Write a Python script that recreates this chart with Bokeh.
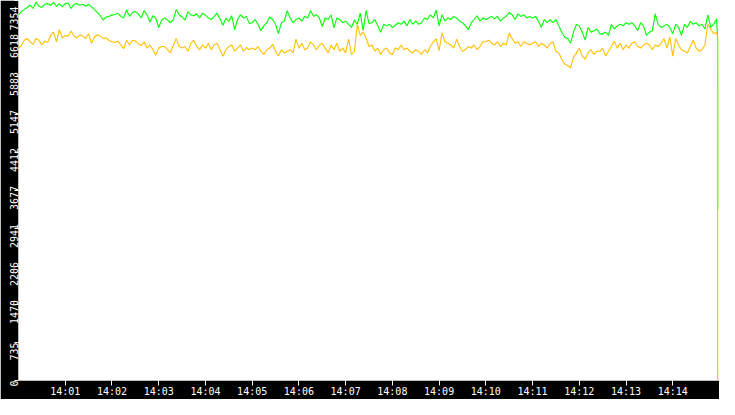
import numpy as np
from datetime import datetime
from bokeh.plotting import figure
from bokeh.models import FixedTicker, DatetimeTickFormatter, Range1d, LinearAxis
from bokeh.embed import file_html
from bokeh.resources import INLINE

# ---------------- data ----------------
y_ticks = [0, 735, 1470, 2206, 2941, 3677, 4412, 5147, 5883, 6618, 7354]
y_tick_labels = [str(v) for v in y_ticks]
x_tick_labels = ["14:01", "14:02", "14:03", "14:04", "14:05", "14:06", "14:07",
                 "14:08", "14:09", "14:10", "14:11", "14:12", "14:13", "14:14"]

# samples every 3.75 s from 14:00:00
green_values = [
    7078, 7139, 7182, 7219, 7262, 7200, 7323, 7243, 7219, 7280, 7293, 7262, 7317, 7243, 7293, 7231, 7293, 7305, 7200, 7280,
    7293, 7262, 7280, 7243, 7280, 7231, 7182, 7121, 7059, 6973, 7035, 7047, 7071, 7084, 7108, 7047, 7016, 7170, 7047, 7121,
    7139, 7096, 7016, 7157, 7078, 6936, 7059, 7016, 6832, 6973, 7016, 6973, 6924, 6986, 7182, 7078, 7035, 6973, 7139, 7078,
    7059, 7096, 7016, 7108, 7071, 7016, 6986, 7047, 7108, 6998, 6875, 7010, 6955, 7059, 6789, 6986, 7078, 7016, 7047, 6912,
    6924, 6986, 6893, 6770, 6863, 6924, 7035, 6986, 6893, 6715, 6924, 6955, 7157, 7016, 6924, 6986, 7016, 6955, 7047, 7016,
    7157, 7047, 7078, 7016, 6850, 7016, 6986, 7078, 6826, 7016, 6986, 6924, 6955, 6893, 6832, 6973, 6893, 7108, 6770, 7157,
    6912, 6924, 6986, 6863, 6740, 6893, 6863, 6893, 6832, 6875, 6924, 6893, 6955, 6863, 6986, 6893, 6955, 6893, 6924, 7016,
    6986, 7078, 7016, 7170, 6863, 7078, 6955, 7016, 6986, 7047, 7016, 6955, 6924, 6863, 6789, 6924, 6986, 7059, 6955, 7016,
    6986, 7016, 7047, 6998, 7047, 6955, 7016, 7047, 7121, 7078, 6986, 7096, 7047, 7078, 7016, 7047, 7016, 7047, 6955, 6832,
    6986, 6924, 6986, 6924, 6986, 6863, 6740, 6648, 6617, 6525, 6740, 6893, 6863, 6740, 6586, 6832, 6740, 6770, 6801, 6709,
    6709, 6740, 6678, 6893, 6801, 6863, 6893, 6863, 6924, 6893, 6924, 6863, 6770, 6924, 6863, 6678, 6740, 6770, 7096, 6893,
    6832, 6863, 6893, 6832, 6709, 6893, 6832, 6678, 6893, 6832, 6955, 6893, 6924, 6863, 6893, 6801, 7078, 6832, 6893, 6998,
]
orange_values = [
    6420, 6494, 6586, 6617, 6555, 6506, 6617, 6586, 6494, 6568, 6543, 6678, 6740, 6555, 6789, 6629, 6678, 6666, 6764, 6666,
    6629, 6691, 6666, 6617, 6709, 6525, 6648, 6691, 6666, 6617, 6629, 6580, 6555, 6543, 6568, 6494, 6420, 6586, 6494, 6586,
    6568, 6525, 6482, 6555, 6433, 6494, 6402, 6297, 6433, 6463, 6463, 6402, 6340, 6494, 6617, 6463, 6433, 6463, 6371, 6525,
    6586, 6463, 6402, 6494, 6433, 6525, 6402, 6494, 6525, 6402, 6273, 6402, 6463, 6494, 6371, 6433, 6494, 6371, 6445, 6402,
    6433, 6402, 6463, 6371, 6310, 6402, 6433, 6506, 6371, 6279, 6402, 6340, 6371, 6402, 6340, 6605, 6433, 6525, 6402, 6433,
    6555, 6494, 6402, 6494, 6525, 6433, 6340, 6494, 6402, 6525, 6371, 6433, 6340, 6605, 6310, 6371, 6893, 6678, 6740, 6629,
    6463, 6494, 6371, 6433, 6310, 6402, 6433, 6340, 6310, 6433, 6402, 6494, 6402, 6433, 6371, 6340, 6402, 6371, 6310, 6402,
    6340, 6463, 6555, 6617, 6383, 6727, 6555, 6525, 6494, 6433, 6605, 6463, 6371, 6402, 6463, 6433, 6494, 6402, 6463, 6555,
    6555, 6586, 6525, 6494, 6555, 6463, 6525, 6494, 6727, 6617, 6525, 6555, 6463, 6555, 6525, 6494, 6525, 6555, 6463, 6525,
    6494, 6433, 6525, 6555, 6371, 6340, 6218, 6126, 6095, 6052, 6248, 6340, 6433, 6279, 6218, 6340, 6402, 6310, 6371, 6371,
    6433, 6279, 6371, 6463, 6568, 6433, 6525, 6402, 6494, 6433, 6525, 6555, 6463, 6433, 6494, 6525, 6494, 6402, 6494, 6463,
    6525, 6617, 6433, 6648, 6279, 6617, 6494, 6402, 6371, 6340, 6463, 6586, 6433, 6371, 6402, 6494, 6893, 6801, 6709, 6740,
]
# last readings before the stop, and the values after the drop
green_tail = [6617, 3300]
orange_tail = [6650, 0]

# ---------------- times ----------------
start = np.datetime64("2024-01-01T14:00:00.000", "ms")
step = np.timedelta64(3750, "ms")
tail_t = [np.timedelta64(897600, "ms"), np.timedelta64(897700, "ms")]

green_t = np.concatenate([start + np.arange(len(green_values)) * step,
                          [start + d for d in tail_t]])
green_y = list(green_values) + green_tail
orange_t = np.concatenate([start + np.arange(len(orange_values)) * step,
                           [start + d for d in tail_t]])
orange_y = list(orange_values) + orange_tail

base_ms = float(start.astype(np.int64))
x_tick_ms = []
for lab in x_tick_labels:
    h, m = lab.split(":")
    x_tick_ms.append(base_ms + ((int(h) - 14) * 60 + int(m)) * 60000.0)

# ---------------- figure ----------------
W, H = 719, 399
FONT = "DejaVu Sans Mono"
FS = "\u2007"  # figure space (digit width)
Y_MAX = 7354

p = figure(width=W, height=H, x_axis_type="datetime",
           x_range=Range1d(datetime(2024, 1, 1, 14, 0, 0), datetime(2024, 1, 1, 14, 15, 0)),
           y_range=Range1d(0, Y_MAX),
           output_backend="svg", toolbar_location=None, tools="")
p.min_border = 0
p.min_border_left = 15
p.min_border_bottom = 16
p.min_border_top = 0
p.min_border_right = 0
p.background_fill_color = "white"
p.border_fill_color = "black"
p.outline_line_color = None
p.xgrid.visible = False
p.ygrid.visible = False

xa = p.xaxis[0]
xa.ticker = FixedTicker(ticks=x_tick_ms)
xa.formatter = DatetimeTickFormatter(seconds="%H:%M", minsec="%H:%M", minutes="%H:%M",
                                     hourmin="%H:%M", hours="%H:%M")
xa.axis_line_color = None
xa.major_tick_line_color = "white"
xa.major_tick_in = 0
xa.major_tick_out = 5
xa.minor_tick_line_color = None
xa.major_label_standoff = 0
xa.major_label_text_color = "white"
xa.major_label_text_font = FONT
xa.major_label_text_font_size = "10px"

# inner left axis: tick marks only
ya = p.yaxis[0]
ya.ticker = FixedTicker(ticks=y_ticks)
ya.axis_line_color = None
ya.major_tick_line_color = "white"
ya.major_tick_in = 0
ya.major_tick_out = 4
ya.minor_tick_line_color = None
ya.major_label_standoff = 0
ya.major_label_overrides = {v: "" for v in y_ticks}
ya.major_label_text_font_size = "0px"

# outer left axis: the rotated labels, each placed slightly below its tick
frame_h = 381.0
px = Y_MAX / frame_h
label_pos = []
label_txt = {}
for v, lab in zip(y_ticks, y_tick_labels):
    if v == Y_MAX:
        pos, txt = v, lab + FS
    elif len(lab) >= 4:
        pos, txt = int(round(v + 4.5 * px)), lab
    else:
        pos, txt = v, lab
    label_pos.append(pos)
    label_txt[pos] = txt
la = LinearAxis(ticker=FixedTicker(ticks=label_pos))
la.major_label_overrides = label_txt
la.axis_line_color = None
la.major_tick_line_color = None
la.major_tick_in = 0
la.major_tick_out = 0
la.minor_tick_line_color = None
la.major_label_standoff = 0
la.major_label_orientation = np.pi / 2
la.major_label_text_color = "white"
la.major_label_text_font = FONT
la.major_label_text_font_size = "10px"
p.add_layout(la, "left")

p.line(green_t, green_y, line_color="#00ff00", line_width=1.1)
p.line(orange_t, orange_y, line_color="#ffc000", line_width=1.1)

open("out.html", "w").write(file_html(p, INLINE))
